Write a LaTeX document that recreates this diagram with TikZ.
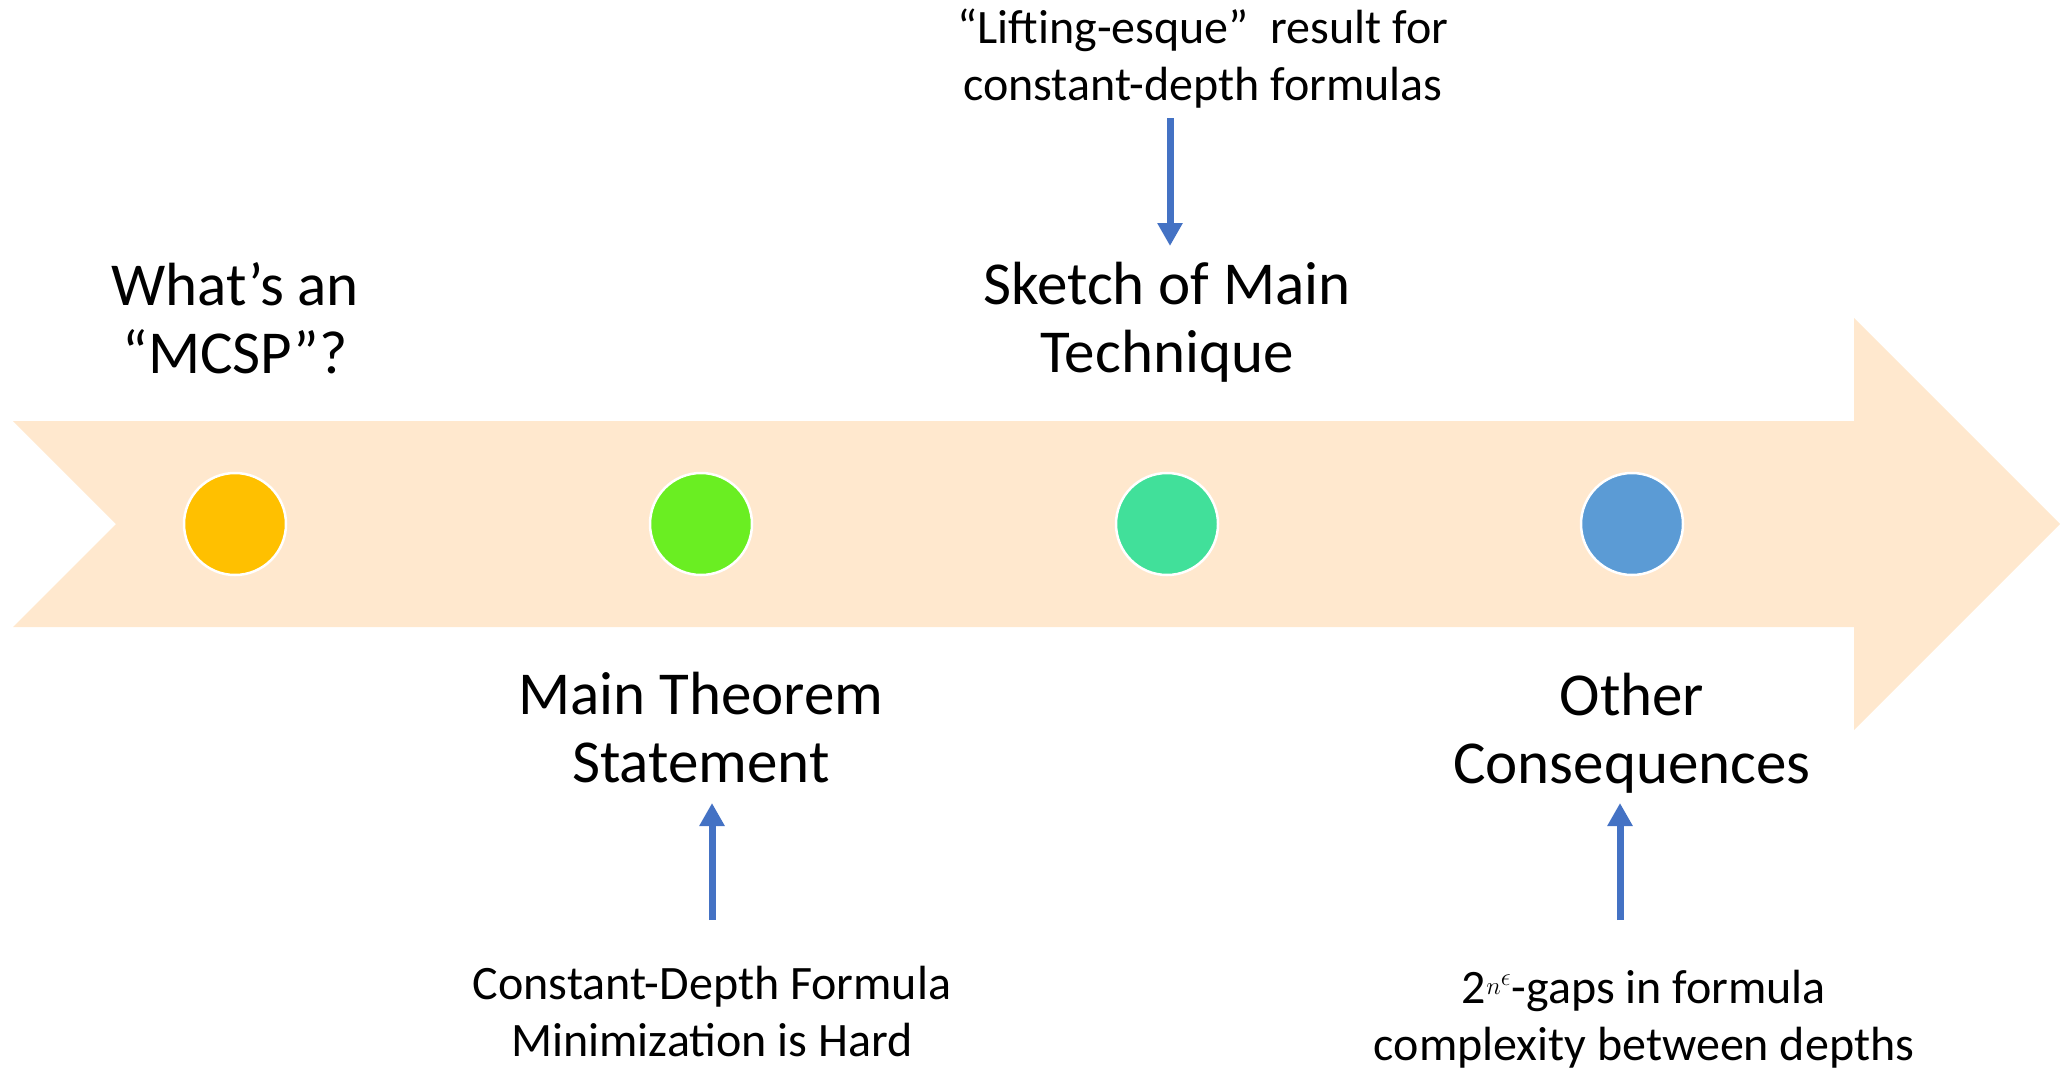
\documentclass[tikz,border=0pt]{standalone}
\usepackage{fontspec}
\setmainfont{Carlito}
\usetikzlibrary{arrows.meta,positioning}
\definecolor{bandfill}{HTML}{FFE8CE}
\definecolor{linkblue}{HTML}{4472C4}
\definecolor{dotyellow}{HTML}{FFC000}
\definecolor{dotgreen}{HTML}{6AEE22}
\definecolor{dotteal}{HTML}{41E09A}
\definecolor{dotblue}{HTML}{5B9BD5}

\begin{document}
\begin{tikzpicture}[x=1pt, y=-1pt,
  dot/.style={circle, draw=white, line width=2.5pt, minimum size=102pt,
              inner sep=0pt},
  title/.style={align=center, font=\fontsize{61}{68}\selectfont},
  note/.style={align=center, font=\fontsize{48}{57}\selectfont},
  link/.style={draw=linkblue, line width=7pt,
               -{Triangle[width=24pt, length=23pt]}},
]
  \useasboundingbox (0,0) rectangle (2061,1071);

  % Column x-coordinates
  \def\xa{235}
  \def\xb{701}
  \def\xc{1167}
  \def\xd{1632}

  % Timeline band
  \fill[bandfill] (13,421) -- (1854,421) -- (1854,318) -- (2060,524)
       -- (1854,730) -- (1854,627) -- (13,627) -- (116,524) -- cycle;

  % Milestones
  \node[dot, fill=dotyellow] (d1) at (\xa,524) {};
  \node[dot, fill=dotgreen]  (d2) at (\xb,524) {};
  \node[dot, fill=dotteal]   (d3) at (\xc,524) {};
  \node[dot, fill=dotblue]   (d4) at (\xd,524) {};

  % Titles above / below the band
  \node[title] (mcsp)   at (\xa,318) {What’s an\\“MCSP”?};
  \node[title] (sketch) at (\xc,322) {Sketch of Main\\Technique};
  \node[title] (thm)    at (\xb,728) {Main Theorem\\Statement};
  \node[title] (other)  at (\xd,733) {Other\\Consequences};

  % Side notes
  \node[note] (lift) at (1203,59) {“Lifting-esque”\ \ result for\\constant-depth formulas};
  \node[note] (hard) at (712,1011) {Constant-Depth Formula\\Minimization is Hard};
  \node[note] (gaps) at (1644,1019) {2$^{n^{\scriptstyle\epsilon}}$-gaps in formula\\complexity between depths};

  % Arrow ends
  \coordinate (liftTail) at (1170,118);
  \coordinate (liftHead) at (1170,246);
  \coordinate (hardTail) at (712,920);
  \coordinate (hardHead) at (712,803);
  \coordinate (gapsTail) at (1620,920);
  \coordinate (gapsHead) at (1620,803);

  \draw[link] (liftTail) -- (liftHead);
  \draw[link] (hardTail) -- (hardHead);
  \draw[link] (gapsTail) -- (gapsHead);

\end{tikzpicture}
\end{document}
